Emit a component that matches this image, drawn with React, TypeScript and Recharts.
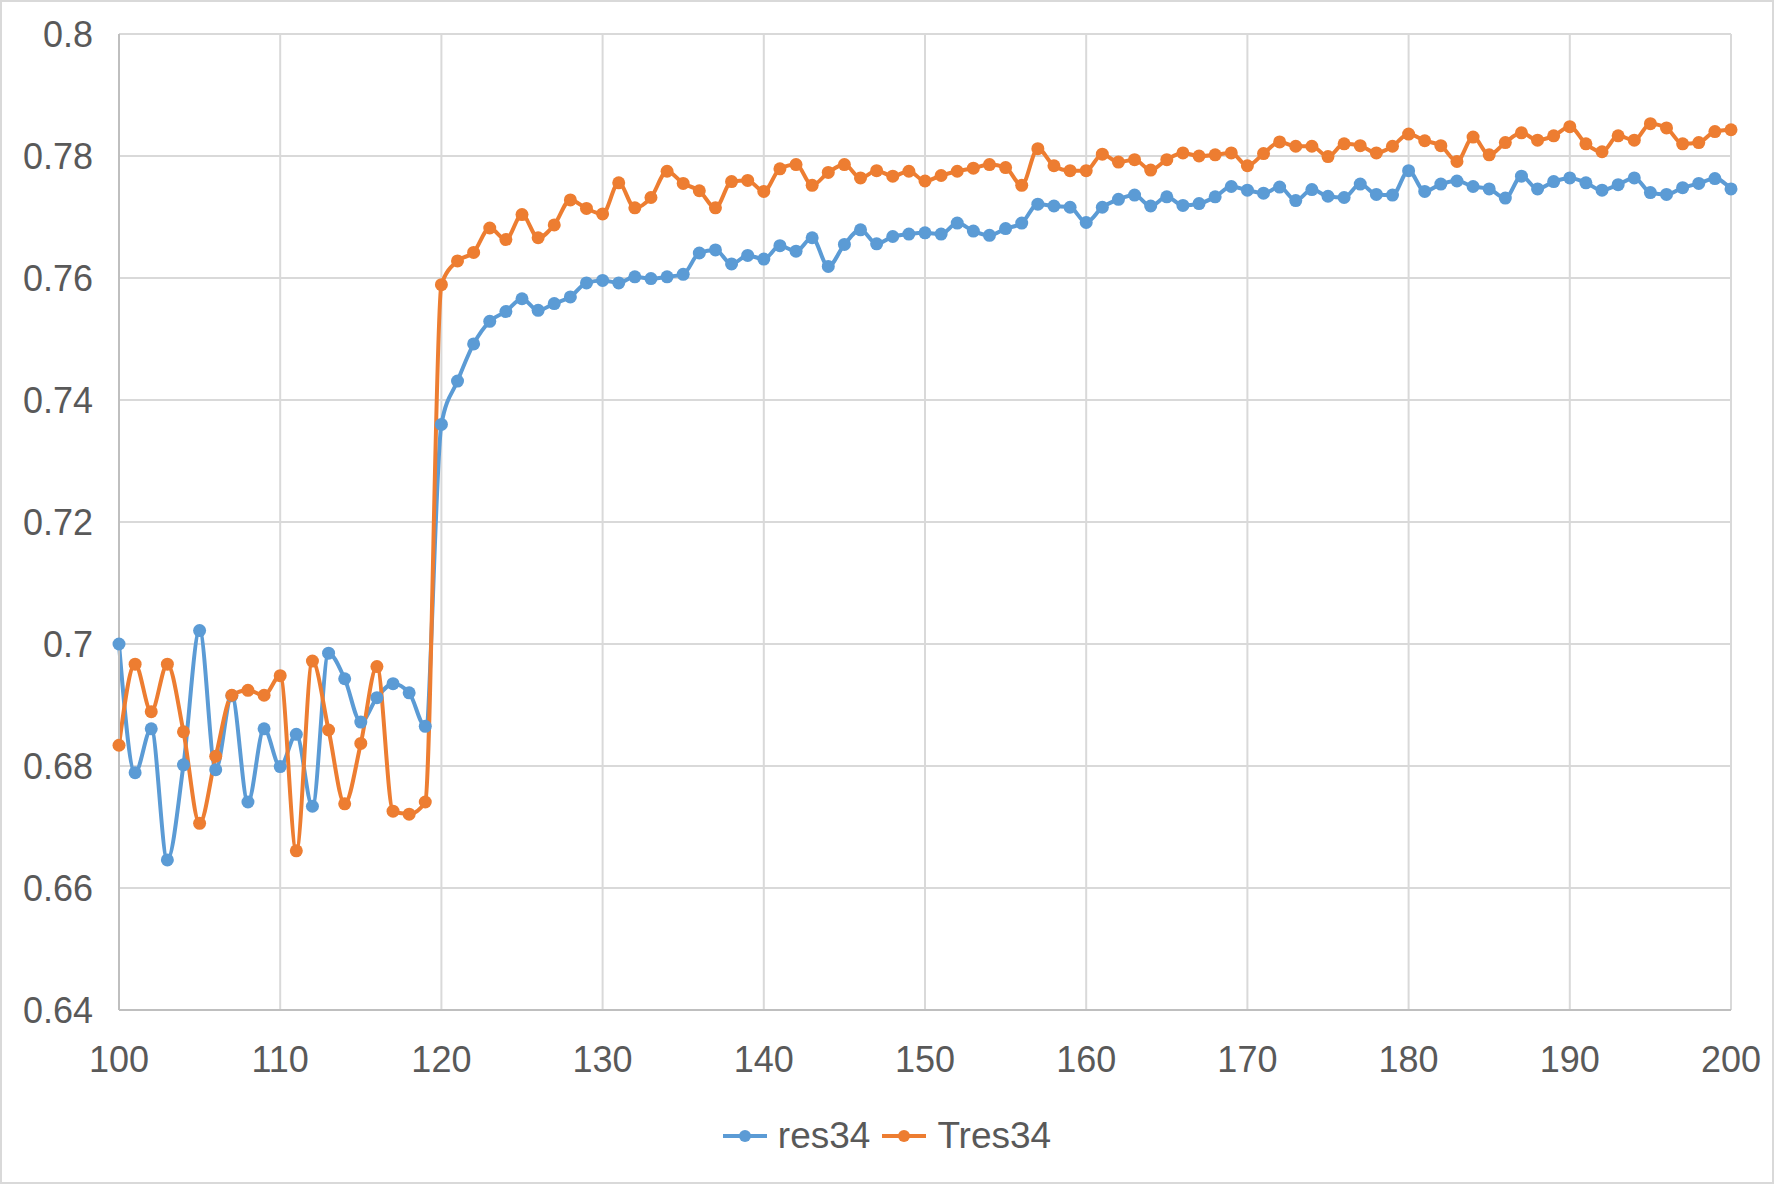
import { LineChart, Line, XAxis, YAxis, CartesianGrid, Legend } from 'recharts'

const epochs = [
  100, 101, 102, 103, 104, 105, 106, 107, 108, 109,
  110, 111, 112, 113, 114, 115, 116, 117, 118, 119,
  120, 121, 122, 123, 124, 125, 126, 127, 128, 129,
  130, 131, 132, 133, 134, 135, 136, 137, 138, 139,
  140, 141, 142, 143, 144, 145, 146, 147, 148, 149,
  150, 151, 152, 153, 154, 155, 156, 157, 158, 159,
  160, 161, 162, 163, 164, 165, 166, 167, 168, 169,
  170, 171, 172, 173, 174, 175, 176, 177, 178, 179,
  180, 181, 182, 183, 184, 185, 186, 187, 188, 189,
  190, 191, 192, 193, 194, 195, 196, 197, 198, 199,
  200,
]

const res34 = [
  0.7000, 0.6789, 0.6861, 0.6646, 0.6802, 0.7022, 0.6794, 0.6915, 0.6741, 0.6861,
  0.6799, 0.6852, 0.6734, 0.6985, 0.6943, 0.6872, 0.6912, 0.6935, 0.6920, 0.6865,
  0.7360, 0.7431, 0.7492, 0.7529, 0.7545, 0.7566, 0.7547, 0.7558, 0.7569, 0.7592,
  0.7596, 0.7592, 0.7602, 0.7599, 0.7602, 0.7606, 0.7641, 0.7646, 0.7623, 0.7637,
  0.7631, 0.7653, 0.7644, 0.7666, 0.7619, 0.7655, 0.7679, 0.7656, 0.7668, 0.7672,
  0.7674, 0.7672, 0.7690, 0.7677, 0.7670, 0.7681, 0.7690, 0.7721, 0.7718, 0.7716,
  0.7691, 0.7716, 0.7729, 0.7736, 0.7718, 0.7733, 0.7719, 0.7722, 0.7733, 0.7750,
  0.7744, 0.7739, 0.7749, 0.7727, 0.7745, 0.7734, 0.7732, 0.7754, 0.7737, 0.7736,
  0.7776, 0.7742, 0.7754, 0.7759, 0.7750, 0.7746, 0.7731, 0.7767, 0.7746, 0.7758,
  0.7764, 0.7756, 0.7744, 0.7753, 0.7764, 0.7740, 0.7737, 0.7748, 0.7755, 0.7763,
  0.7746,
]

const tres34 = [
  0.6834, 0.6967, 0.6889, 0.6967, 0.6856, 0.6706, 0.6816, 0.6916, 0.6924, 0.6916,
  0.6948, 0.6661, 0.6972, 0.6859, 0.6738, 0.6837, 0.6963, 0.6726, 0.6721, 0.6741,
  0.7589, 0.7628, 0.7642, 0.7682, 0.7663, 0.7704, 0.7666, 0.7687, 0.7728, 0.7714,
  0.7705, 0.7756, 0.7715, 0.7732, 0.7775, 0.7755, 0.7743, 0.7715, 0.7758, 0.7760,
  0.7742, 0.7779, 0.7786, 0.7752, 0.7773, 0.7786, 0.7764, 0.7776, 0.7767, 0.7775,
  0.7759, 0.7768, 0.7775, 0.7780, 0.7786, 0.7781, 0.7752, 0.7812, 0.7784, 0.7776,
  0.7776, 0.7803, 0.7790, 0.7794, 0.7777, 0.7794, 0.7805, 0.7800, 0.7802, 0.7805,
  0.7784, 0.7804, 0.7823, 0.7816, 0.7816, 0.7799, 0.7820, 0.7817, 0.7805, 0.7816,
  0.7836, 0.7825, 0.7817, 0.7791, 0.7831, 0.7802, 0.7822, 0.7838, 0.7826, 0.7833,
  0.7848, 0.7820, 0.7807, 0.7833, 0.7826, 0.7853, 0.7846, 0.7820, 0.7822, 0.7840,
  0.7843,
]

const xTicks = [100, 110, 120, 130, 140, 150, 160, 170, 180, 190, 200]
const yTicks = [0.64, 0.66, 0.68, 0.7, 0.72, 0.74, 0.76, 0.78, 0.8]
const seriesOrder = ['res34', 'Tres34']

const BLUE = '#5B9BD5'
const ORANGE = '#ED7D31'
const FONT = '"Liberation Sans", Arial, Helvetica, sans-serif'
const tickStyle = { fontSize: 36, fill: '#595959', fontFamily: FONT }

const data = epochs.map((epoch, i) => ({ epoch, res34: res34[i], Tres34: tres34[i] }))

function LegendContent(props: any) {
  const items = [...(props.payload || [])].sort(
    (a: any, b: any) => seriesOrder.indexOf(a.value) - seriesOrder.indexOf(b.value)
  )
  return (
    <div style={{ display: 'flex', justifyContent: 'center', alignItems: 'center', height: 50, paddingLeft: 43, fontFamily: FONT, fontSize: 37, color: '#595959' }}>
      {items.map((it: any, i: number) => (
        <div key={it.value} style={{ display: 'flex', alignItems: 'center', marginLeft: i === 0 ? 0 : 12 }}>
          <svg width={44} height={14}>
            <line x1={0} y1={7} x2={44} y2={7} stroke={it.color} strokeWidth={4} />
            <circle cx={22} cy={7} r={6} fill={it.color} />
          </svg>
          <span style={{ marginLeft: 11 }}>{it.value}</span>
        </div>
      ))}
    </div>
  )
}

export default function App() {
  return (
    <div style={{ position: 'absolute', top: 0, left: 0, width: 1774, height: 1184, background: '#fff' }}>
      <LineChart width={1774} height={1184} data={data} margin={{ top: 34, right: 43, left: 0, bottom: 23 }}>
        <CartesianGrid stroke="#d9d9d9" strokeWidth={2} verticalValues={xTicks} horizontalValues={yTicks} />
        <XAxis
          dataKey="epoch"
          type="number"
          domain={[100, 200]}
          ticks={xTicks}
          height={101}
          tickSize={0}
          tickMargin={36}
          tick={tickStyle}
          axisLine={{ stroke: '#bfbfbf', strokeWidth: 2 }}
          tickLine={false}
        />
        <YAxis
          type="number"
          domain={[0.64, 0.8]}
          ticks={yTicks}
          width={119}
          tickSize={0}
          tickMargin={26}
          tick={tickStyle}
          axisLine={{ stroke: '#bfbfbf', strokeWidth: 2 }}
          tickLine={false}
        />
        <Legend verticalAlign="bottom" content={<LegendContent />} />
        <Line type="monotone" dataKey="res34" stroke={BLUE} strokeWidth={4} dot={{ r: 6.5, fill: BLUE, stroke: BLUE, strokeWidth: 0 }} isAnimationActive={false} />
        <Line type="monotone" dataKey="Tres34" stroke={ORANGE} strokeWidth={4} dot={{ r: 6.5, fill: ORANGE, stroke: ORANGE, strokeWidth: 0 }} isAnimationActive={false} />
      </LineChart>
      <div style={{ position: 'absolute', inset: 0, boxShadow: 'inset 0 0 0 2px #d9d9d9', pointerEvents: 'none' }} />
    </div>
  )
}
